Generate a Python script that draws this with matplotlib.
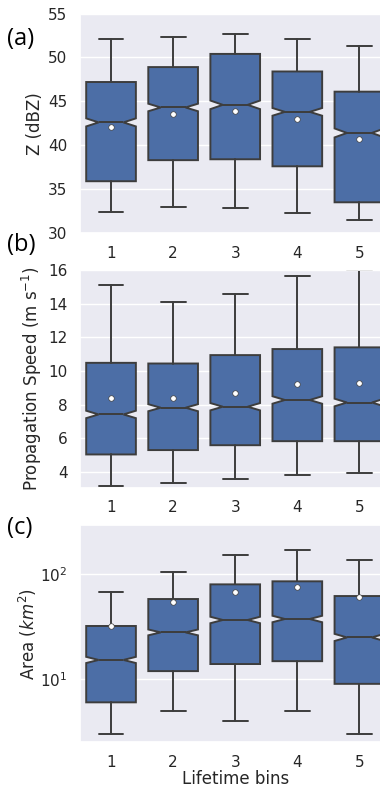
import numpy as np
import matplotlib
matplotlib.use('Agg')
import matplotlib.pyplot as plt
import seaborn as sns

# lifetime bins on the x axis
bins = ['1', '2', '3', '4', '5']
n_obs = 1500  # rough sample size per bin, only used for the notch width

# (a) reflectivity, dBZ
z_whislo = [32.4, 33.0, 32.8, 32.3, 31.5]
z_q1 = [35.9, 38.3, 38.4, 37.6, 33.5]
z_med = [42.6, 44.3, 44.6, 43.8, 41.4]
z_q3 = [47.2, 48.9, 50.4, 48.4, 46.1]
z_whishi = [52.1, 52.3, 52.7, 52.1, 51.3]
z_mean = [42.1, 43.6, 43.9, 43.0, 40.7]

# (b) propagation speed, m/s
s_whislo = [3.16, 3.34, 3.56, 3.80, 3.90]
s_q1 = [5.03, 5.29, 5.58, 5.82, 5.82]
s_med = [7.41, 7.81, 7.87, 8.27, 8.12]
s_q3 = [10.48, 10.44, 10.94, 11.30, 11.40]
s_whishi = [15.09, 14.12, 14.55, 15.66, 15.98]
s_mean = [8.36, 8.40, 8.66, 9.23, 9.31]

# (c) area, km2
a_whislo = [3.0, 5.0, 4.0, 5.0, 3.0]
a_q1 = [6.0, 11.9, 13.9, 14.8, 9.0]
a_med = [15.2, 27.8, 36.5, 37.3, 24.9]
a_q3 = [32.0, 57.8, 79.7, 85.2, 61.7]
a_whishi = [68.0, 104.5, 151.7, 168.0, 136.0]
a_mean = [32.0, 53.7, 66.9, 75.7, 60.0]

BOX_COLOR = '#4c6ea6'
LINE_COLOR = '#3d3d3d'


def make_stats(lo, q1, med, q3, hi, mean, log=False):
    stats = []
    for i in range(len(bins)):
        if log:
            lq1, lmed, lq3 = np.log10([q1[i], med[i], q3[i]])
            d = 1.57 * (lq3 - lq1) / np.sqrt(n_obs)
            cilo, cihi = 10 ** (lmed - d), 10 ** (lmed + d)
        else:
            d = 1.57 * (q3[i] - q1[i]) / np.sqrt(n_obs)
            cilo, cihi = med[i] - d, med[i] + d
        stats.append({
            'whislo': lo[i], 'q1': q1[i], 'med': med[i], 'q3': q3[i],
            'whishi': hi[i], 'mean': mean[i], 'cilo': cilo, 'cihi': cihi,
            'fliers': [], 'label': bins[i],
        })
    return stats


def draw_boxes(ax, stats):
    lw = 1.4
    ax.bxp(stats, positions=range(len(bins)), widths=0.8, capwidths=0.4,
           patch_artist=True, shownotches=True, showmeans=True,
           showfliers=False,
           boxprops=dict(facecolor=BOX_COLOR, edgecolor=LINE_COLOR, linewidth=lw),
           medianprops=dict(color=LINE_COLOR, linewidth=lw),
           whiskerprops=dict(color=LINE_COLOR, linewidth=lw),
           capprops=dict(color=LINE_COLOR, linewidth=lw),
           meanprops=dict(marker='o', markerfacecolor='white',
                          markeredgecolor=LINE_COLOR, markersize=4,
                          markeredgewidth=0.5))
    ax.set_xlim(-0.5, len(bins) - 0.5)
    ax.set_xticks(range(len(bins)))
    ax.set_xticklabels(bins)
    ax.grid(axis='x', visible=False)
    ax.tick_params(axis='both', length=0, pad=9, labelsize=11,
                   labelcolor='#262626')


sns.set_theme(style='darkgrid')
plt.rcParams['font.family'] = ['DejaVu Sans']

fig = plt.figure(figsize=(3.8, 7.91), dpi=100)
left, width = 0.2105, 0.817
ax_a = fig.add_axes([left, 0.7054, width, 0.2775])
ax_b = fig.add_axes([left, 0.3834, width, 0.2752])
ax_c = fig.add_axes([left, 0.0616, width, 0.2747])

draw_boxes(ax_a, make_stats(z_whislo, z_q1, z_med, z_q3, z_whishi, z_mean))
ax_a.set_ylim(30, 55)
ax_a.set_yticks([30, 35, 40, 45, 50, 55])
ax_a.set_ylabel('Z (dBZ)', fontsize=12, labelpad=3)

draw_boxes(ax_b, make_stats(s_whislo, s_q1, s_med, s_q3, s_whishi, s_mean))
ax_b.set_ylim(3.05, 16.0)
ax_b.set_yticks([4, 6, 8, 10, 12, 14, 16])
ax_b.set_ylabel('Propagation Speed (m s$^{-1}$)', fontsize=12, labelpad=3)

ax_c.set_yscale('log')
draw_boxes(ax_c, make_stats(a_whislo, a_q1, a_med, a_q3, a_whishi, a_mean, log=True))
ax_c.set_ylim(2.5, 293)
ax_c.minorticks_off()
ax_c.set_ylabel('Area ($km^2$)', fontsize=12, labelpad=1)
ax_c.set_xlabel('Lifetime bins', fontsize=12, labelpad=0)

for lab, y in [('(a)', 39), ('(b)', 245), ('(c)', 528)]:
    fig.text(7 / 380, 1 - y / 791, lab, fontsize=17, va='center', ha='left',
             family=['Open Sans', 'DejaVu Sans'], color='black')

fig.savefig('out.png', dpi=100)
